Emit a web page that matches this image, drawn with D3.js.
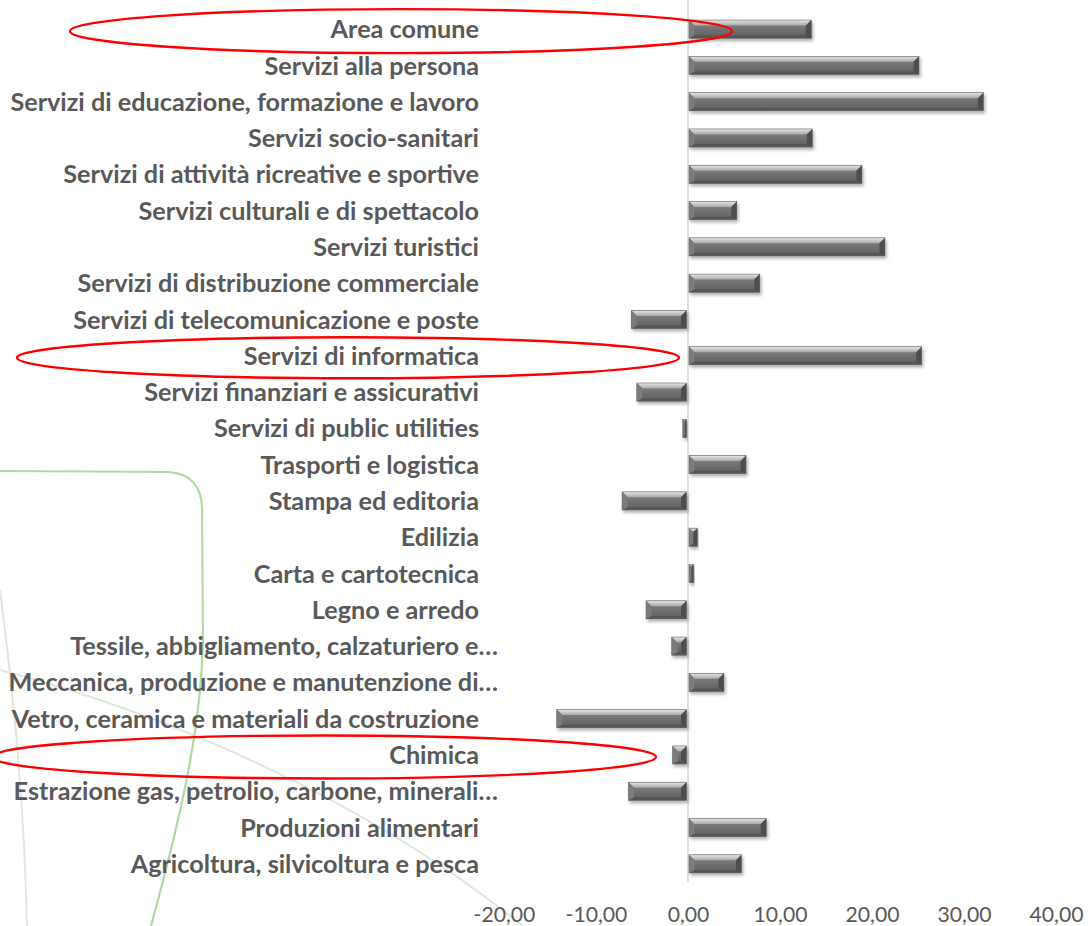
<!DOCTYPE html>
<html>
<head>
<meta charset="utf-8">
<script src="https://cdn.jsdelivr.net/npm/d3@7/dist/d3.min.js"></script>
<style>
  html, body { margin: 0; padding: 0; background: #ffffff; }
  svg { display: block; }
</style>
</head>
<body>
<svg id="chart" width="1088" height="926"></svg>
<script>
// ---- Data ----
const categories = [
  "Area comune",
  "Servizi alla persona",
  "Servizi di educazione, formazione e lavoro",
  "Servizi socio-sanitari",
  "Servizi di attività ricreative e sportive",
  "Servizi culturali e di spettacolo",
  "Servizi turistici",
  "Servizi di distribuzione commerciale",
  "Servizi di telecomunicazione e poste",
  "Servizi di informatica",
  "Servizi finanziari e assicurativi",
  "Servizi di public utilities",
  "Trasporti e logistica",
  "Stampa ed editoria",
  "Edilizia",
  "Carta e cartotecnica",
  "Legno e arredo",
  "Tessile, abbigliamento, calzaturiero e…",
  "Meccanica, produzione e manutenzione di…",
  "Vetro, ceramica e materiali da costruzione",
  "Chimica",
  "Estrazione gas, petrolio, carbone, minerali…",
  "Produzioni alimentari",
  "Agricoltura, silvicoltura e pesca"
];
const values = [
  13.3, 25.0, 32.0, 13.4, 18.8, 5.2, 21.3, 7.7, -6.0, 25.3, -5.4, -0.4,
  6.2, -7.0, 0.9, 0.5, -4.4, -1.6, 3.8, -14.1, -1.5, -6.3, 8.4, 5.7
];
const tickValues = [-20, -10, 0, 10, 20, 30, 40];
const highlighted = ["Area comune", "Servizi di informatica", "Chimica"];

// ---- Setup ----
const svg = d3.select("#chart");
const textColor = "#595959";
const labelFont = "Lato, 'Open Sans', sans-serif";

const x = d3.scaleLinear().domain([-20, 40]).range([504, 1056]);
const y = d3.scaleBand().domain(categories).range([11, 882]).paddingInner(0.5).paddingOuter(0.25);

const itLocale = d3.formatLocale({decimal: ",", thousands: ".", grouping: [3], currency: ["€", ""], minus: "-"});
const fmt = itLocale.format(".2f");

const defs = svg.append("defs");
const shadow = defs.append("filter").attr("id", "shadow")
  .attr("x", "-20%").attr("y", "-50%").attr("width", "140%").attr("height", "220%");
shadow.append("feDropShadow").attr("dx", 1.5).attr("dy", 2.5).attr("stdDeviation", 1.8)
  .attr("flood-color", "#000").attr("flood-opacity", 0.3);

const gBody = defs.append("linearGradient").attr("id", "gBody").attr("x1", 0).attr("y1", 0).attr("x2", 0).attr("y2", 1);
gBody.append("stop").attr("offset", "0%").attr("stop-color", "#8a8a8a");
gBody.append("stop").attr("offset", "50%").attr("stop-color", "#717171");
gBody.append("stop").attr("offset", "100%").attr("stop-color", "#5e5e5e");
const gTop = defs.append("linearGradient").attr("id", "gTop").attr("x1", 0).attr("y1", 0).attr("x2", 0).attr("y2", 1);
gTop.append("stop").attr("offset", "0%").attr("stop-color", "#e6e6e6");
gTop.append("stop").attr("offset", "100%").attr("stop-color", "#a8a8a8");

// ---- Background decoration ----
const deco = svg.append("g").attr("fill", "none");
deco.append("path").attr("d", "M0,590 C14,700 24,800 27,926")
  .attr("stroke", "#e3e6df").attr("stroke-width", 2);
deco.append("path").attr("d", "M0,670 C160,712 360,795 523,926")
  .attr("stroke", "#e3e6df").attr("stroke-width", 2);
deco.append("path").attr("d", "M0,471 L168,472 Q201,474 202,508 L203,640 C201,725 184,805 151,926")
  .attr("stroke", "#b3d9a3").attr("stroke-width", 2.2);

// ---- Zero line ----
svg.append("line")
  .attr("x1", x(0)).attr("x2", x(0)).attr("y1", 0).attr("y2", 882)
  .attr("stroke", "#d9d9d9").attr("stroke-width", 1.5);

// ---- Category labels ----
const probe = svg.append("text").attr("font-family", labelFont).attr("font-weight", "bold")
  .attr("font-size", 20).text(categories[2]);
const w20 = probe.node().getComputedTextLength();
probe.remove();
const labelSize = 20 * 469 / w20;

svg.append("g").selectAll("text").data(categories).join("text")
  .attr("x", d => d.endsWith("…") ? 498 : 479)
  .attr("y", d => y(d) + y.bandwidth() / 2)
  .attr("dy", "0.36em")
  .attr("text-anchor", "end")
  .attr("font-family", labelFont)
  .attr("font-weight", "bold")
  .attr("font-size", labelSize)
  .attr("fill", textColor)
  .text(d => d);

// ---- Bars ----
const data = categories.map((c, i) => ({cat: c, v: values[i]}));
svg.append("g").selectAll("g").data(data).join("g")
  .attr("filter", "url(#shadow)")
  .each(function(d) {
    const g = d3.select(this);
    const x0 = d.v >= 0 ? x(0) + 1 : x(d.v) - 1.5;
    const x1 = d.v >= 0 ? x(d.v) + 1 : x(0) - 1.5;
    const w = Math.max(1.5, x1 - x0);
    const yt = y(d.cat), h = y.bandwidth();
    const b = Math.min(5.5, w / 2);
    g.append("rect").attr("x", x0).attr("y", yt).attr("width", w).attr("height", h).attr("fill", "url(#gBody)");
    g.append("polygon").attr("points", [[x0, yt], [x0 + w, yt], [x0 + w - b, yt + b], [x0 + b, yt + b]].join(" "))
      .attr("fill", "url(#gTop)");
    g.append("polygon").attr("points", [[x0, yt + h], [x0 + w, yt + h], [x0 + w - b, yt + h - 3], [x0 + b, yt + h - 3]].join(" "))
      .attr("fill", "#555555");
    g.append("polygon").attr("points", [[x0 + w, yt], [x0 + w, yt + h], [x0 + w - b, yt + h - 3], [x0 + w - b, yt + b]].join(" "))
      .attr("fill", "#4d4d4d");
    g.append("polygon").attr("points", [[x0, yt], [x0, yt + h], [x0 + b, yt + h - 3], [x0 + b, yt + b]].join(" "))
      .attr("fill", "#7c7c7c");
    g.append("rect").attr("x", x0).attr("y", yt).attr("width", w).attr("height", h)
      .attr("fill", "none").attr("stroke", "#6a6a6a").attr("stroke-width", 0.6);
  });

// ---- X axis ----
const probe2 = svg.append("text").attr("font-family", labelFont).attr("font-size", 20).text(fmt(20));
const tw20 = probe2.node().getComputedTextLength();
probe2.remove();
const tickSize = 20 * 54 / tw20;

const axis = d3.axisBottom(x).tickValues(tickValues).tickSize(0).tickFormat(fmt);
const ax = svg.append("g").attr("transform", "translate(0,922)").call(axis);
ax.select(".domain").remove();
ax.selectAll("text")
  .attr("y", 0).attr("dy", 0)
  .attr("font-family", labelFont)
  .attr("font-size", tickSize)
  .attr("fill", textColor);

// ---- Red annotation ellipses ----
const ellipses = [
  {cat: highlighted[0], cx: 401, rx: 331, ry: 22},
  {cat: highlighted[1], cx: 348, rx: 331, ry: 20.5},
  {cat: highlighted[2], cx: 324, rx: 332, ry: 21.5}
];
svg.append("g").selectAll("ellipse").data(ellipses).join("ellipse")
  .attr("cx", d => d.cx)
  .attr("cy", d => y(d.cat) + y.bandwidth() / 2 + 2)
  .attr("rx", d => d.rx)
  .attr("ry", d => d.ry)
  .attr("fill", "none")
  .attr("stroke", "#ff0000")
  .attr("stroke-width", 2.4);
</script>
</body>
</html>
